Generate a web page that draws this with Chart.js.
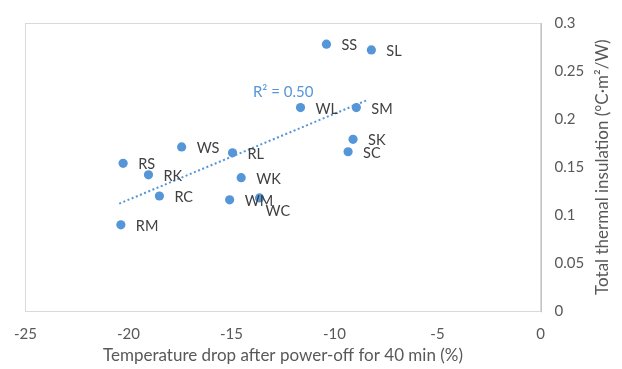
<!DOCTYPE html>
<html>
<head>
<meta charset="utf-8">
<script src="https://cdn.jsdelivr.net/npm/chart.js@4"></script>
<style>
  html, body { margin: 0; padding: 0; background: #fff; }
  #wrap { position: relative; width: 622px; height: 369px; }
</style>
</head>
<body>
<div id="wrap"><canvas id="chart"></canvas></div>
<script>
// values
const sampleNames = ['SS', 'SL', 'WL', 'SM', 'SK', 'SC', 'WS', 'RL', 'RS', 'RK', 'WK', 'RC', 'WM', 'WC', 'RM'];
const tempDrop   = [-10.39, -8.21, -11.65, -8.94, -9.10, -9.34, -17.42, -14.95, -20.26, -19.03, -14.53, -18.50, -15.09, -13.64, -20.37];
const insulation = [0.278, 0.272, 0.212, 0.212, 0.179, 0.166, 0.171, 0.165, 0.154, 0.142, 0.139, 0.120, 0.116, 0.118, 0.090];
const trendX = [-20.45, -8.39];
const trendY = [0.112, 0.220];
const xTicks = [-25, -20, -15, -10, -5, 0];
const yTicks = [0, 0.05, 0.1, 0.15, 0.2, 0.25, 0.3];
const r2Text = 'R² = 0.50';
const r2Pos = { x: -13.96, y: 0.228 };
const xTitle = 'Temperature drop after power-off for 40 min (%)';
const yTitle = 'Total thermal insulation (°C·m²/W)';

const blue = '#5596d8';
const fontFam = 'Lato, "Open Sans", sans-serif';

// label nudges (px) where Excel moved a label off the default spot
const labelNudge = { WC: [-9, 12] };

const decor = {
    id: 'decor',
    beforeDatasetsDraw(chart) {
        const a = chart.chartArea;
        const ctx = chart.ctx;
        ctx.save();
        ctx.strokeStyle = '#d9d9d9';
        ctx.lineWidth = 1;
        ctx.strokeRect(Math.round(a.left) + 0.5, Math.round(a.top) + 0.5,
            Math.round(a.right - a.left), Math.round(a.bottom - a.top));
        ctx.strokeStyle = '#c3c3c3';
        ctx.beginPath();
        ctx.moveTo(Math.round(a.right) + 0.5, a.top);
        ctx.lineTo(Math.round(a.right) + 0.5, a.bottom + 1);
        ctx.stroke();
        ctx.restore();
    },
    afterDatasetsDraw(chart) {
        const ctx = chart.ctx;
        const meta = chart.getDatasetMeta(0);
        const xs = chart.scales.x, ys = chart.scales.y;
        ctx.save();
        ctx.font = '14.5px ' + fontFam;
        ctx.fillStyle = '#404040';
        ctx.textAlign = 'left';
        ctx.textBaseline = 'middle';
        meta.data.forEach((pt, i) => {
            const name = sampleNames[i];
            const n = labelNudge[name] || [0, 0];
            ctx.fillText(name, pt.x + 15 + n[0], pt.y + 1.5 + n[1]);
        });

        // R² label
        ctx.fillStyle = blue;
        ctx.font = '15px ' + fontFam;
        ctx.fillText(r2Text, xs.getPixelForValue(r2Pos.x), ys.getPixelForValue(r2Pos.y));

        // right-hand axis title, reading bottom to top
        const a = chart.chartArea;
        ctx.translate(ys.right - 19, (a.top + a.bottom) / 2);
        ctx.rotate(-Math.PI / 2);
        ctx.textAlign = 'center';
        ctx.fillStyle = '#595959';
        ctx.font = '17px ' + fontFam;
        ctx.fillText(yTitle, 0, 0);
        ctx.restore();
    }
};

new Chart(document.getElementById('chart'), {
    type: 'scatter',
    data: {
        datasets: [
            {
                label: 'samples',
                data: tempDrop.map((x, i) => ({ x: x, y: insulation[i] })),
                backgroundColor: blue,
                borderColor: blue,
                pointRadius: 4.6,
                pointHoverRadius: 4.6,
                borderWidth: 0,
                order: 1
            },
            {
                label: 'trend',
                type: 'line',
                data: trendX.map((x, i) => ({ x: x, y: trendY[i] })),
                borderColor: blue,
                borderWidth: 2,
                borderDash: [2, 2.5],
                pointRadius: 0,
                fill: false,
                order: 2
            }
        ]
    },
    options: {
        responsive: true,
        maintainAspectRatio: false,
        animation: false,
        events: [],
        layout: { padding: { left: 24, top: 15, right: 0, bottom: 0 } },
        plugins: {
            legend: { display: false },
            tooltip: { enabled: false }
        },
        scales: {
            x: {
                type: 'linear',
                min: -25,
                max: 0,
                afterBuildTicks: s => { s.ticks = xTicks.map(v => ({ value: v })); },
                afterFit: s => { s.height = 57.7; },
                grid: { display: false, drawTicks: false },
                border: { display: false },
                ticks: {
                    color: '#595959',
                    padding: 14,
                    maxRotation: 0,
                    font: { family: fontFam, size: 15 },
                    callback: v => String(v)
                },
                title: {
                    display: true,
                    text: xTitle,
                    color: '#595959',
                    font: { family: fontFam, size: 17 },
                    padding: { top: 0, bottom: 3 }
                }
            },
            y: {
                type: 'linear',
                position: 'right',
                min: 0,
                max: 0.3,
                afterBuildTicks: s => { s.ticks = yTicks.map(v => ({ value: v })); },
                afterFit: s => { s.width = 81.5; },
                grid: { display: false, drawTicks: false },
                border: { display: false },
                ticks: {
                    color: '#595959',
                    padding: 14,
                    font: { family: fontFam, size: 15 },
                    callback: v => String(parseFloat(v.toFixed(2)))
                }
            }
        }
    },
    plugins: [decor]
});
</script>
</body>
</html>
